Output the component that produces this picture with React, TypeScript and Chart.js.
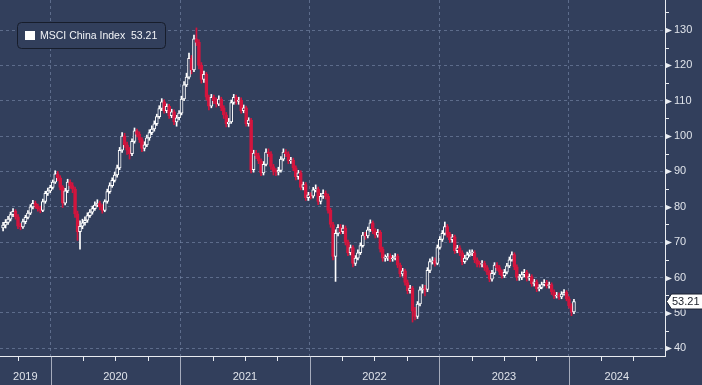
import React, { useEffect, useRef } from 'react';
import { Chart, registerables } from 'chart.js';

Chart.register(...registerables);

// ---------- data ----------
const SERIES_NAME = 'MSCI China Index';
const LAST_VALUE = 53.21;
const START_DATE = '2019-08-20'; // first weekly candle
const FIRST_OPEN = 74.0;

const CLOSE = [
  74.8, 75.6, 76.5, 77.8, 78.7, 77.2, 74.5, 74.3, 75.8, 77.0,
  78.2, 80.0, 81.0, 80.2, 79.5, 79.0, 81.5, 83.8, 84.5, 85.5,
  87.0, 89.3, 88.2, 85.5, 81.0, 84.5, 87.0, 86.0, 85.0, 78.0,
  73.0, 74.5, 75.5, 76.2, 77.5, 78.5, 79.5, 80.5, 81.0, 80.0,
  79.0, 81.5, 84.3, 86.0, 87.5, 89.0, 91.0, 96.0, 100.0, 97.5,
  96.0, 95.0, 98.5, 101.5, 100.5, 99.0, 96.5, 97.5, 99.5, 101.0,
  102.0, 103.5, 105.5, 107.8, 109.7, 107.2, 108.4, 105.8, 106.9, 104.0,
  105.2, 106.5, 110.5, 114.5, 116.7, 122.0, 118.7, 127.5, 126.5, 120.0,
  116.0, 117.5, 111.0, 108.5, 111.0, 110.0, 109.0, 110.5, 108.0, 106.0,
  103.5, 104.0, 109.5, 111.0, 109.8, 110.2, 107.2, 108.0, 103.5, 104.5,
  90.5, 95.2, 94.5, 93.0, 89.6, 92.0, 95.5, 95.0, 91.4, 90.0,
  89.8, 90.3, 93.5, 95.5, 95.0, 93.0, 93.2, 91.0, 88.5, 89.6,
  85.5, 86.3, 82.6, 83.4, 83.0, 84.8, 85.0, 81.5, 83.0, 83.8,
  83.0, 79.0, 75.0, 66.0, 72.5, 74.2, 73.0, 74.0, 70.0, 67.0,
  68.5, 64.0, 65.5, 67.0, 69.0, 72.0, 71.8, 73.5, 75.5, 73.2,
  72.0, 72.8, 68.0, 65.5, 65.5, 66.0, 65.3, 65.5, 66.0, 63.5,
  61.0, 61.9, 58.6, 56.3, 57.0, 50.5, 49.0, 52.5, 56.5, 57.0,
  56.6, 62.0, 64.5, 64.8, 64.0, 68.5, 70.8, 72.5, 74.4, 72.2,
  70.7, 71.5, 67.6, 68.4, 67.0, 64.5, 65.5, 66.4, 67.0, 67.0,
  65.0, 63.8, 63.7, 64.0, 62.8, 61.5, 59.5, 61.2, 63.5, 62.8,
  61.5, 60.5, 61.5, 63.3, 65.0, 66.5, 63.0, 60.0, 60.0, 60.8,
  61.5, 59.8, 60.3, 58.2, 58.8, 56.8, 57.2, 58.0, 58.6, 57.7,
  58.0, 55.9, 54.7, 55.0, 54.5, 55.3, 55.8, 54.0, 52.0, 50.3,
  53.21,
];

const HIGH = [
  75.6, 76.4, 77.3, 78.5, 79.5, 79.2, 77.8, 75.3, 76.5, 77.6,
  78.9, 80.6, 81.8, 81.6, 80.8, 80.2, 82.2, 84.4, 85.3, 86.1,
  87.6, 90.2, 90.0, 88.8, 86.0, 85.2, 87.8, 87.6, 86.8, 85.6,
  78.8, 76.0, 76.5, 77.2, 78.3, 79.2, 80.2, 81.4, 82.0, 81.6,
  80.6, 82.0, 85.0, 86.8, 88.2, 89.8, 91.8, 96.8, 101.0, 100.8,
  98.3, 96.8, 99.2, 102.3, 102.0, 101.2, 99.6, 98.4, 100.3, 101.8,
  102.9, 104.3, 106.2, 108.6, 110.6, 110.3, 109.1, 109.0, 107.6, 107.4,
  105.9, 107.2, 111.3, 115.4, 117.8, 123.5, 122.8, 128.6, 130.6, 127.2,
  120.8, 118.4, 118.0, 111.6, 111.8, 111.6, 110.8, 111.4, 111.0, 108.6,
  106.7, 105.0, 110.2, 111.8, 111.6, 111.0, 110.8, 108.8, 108.5, 105.2,
  105.0, 96.0, 96.0, 95.2, 93.6, 92.8, 96.4, 96.4, 95.6, 92.0,
  90.8, 91.2, 94.2, 96.4, 96.2, 95.6, 94.0, 93.8, 91.6, 90.3,
  90.2, 87.0, 86.9, 84.1, 84.0, 85.5, 86.2, 85.6, 83.8, 84.8,
  84.5, 83.6, 79.6, 75.6, 73.5, 75.0, 75.0, 74.8, 74.6, 70.6,
  69.2, 69.0, 66.2, 67.8, 69.8, 72.8, 72.8, 74.3, 76.3, 76.0,
  73.8, 73.6, 73.3, 68.6, 66.4, 66.8, 66.7, 66.3, 66.8, 66.6,
  64.1, 62.6, 62.4, 59.3, 57.8, 57.5, 51.6, 53.2, 57.4, 58.0,
  57.8, 62.8, 65.3, 65.8, 65.6, 69.2, 71.6, 73.3, 75.7, 75.0,
  72.8, 72.2, 72.0, 69.1, 69.0, 67.6, 66.3, 67.2, 67.8, 67.8,
  67.6, 65.6, 64.6, 64.8, 64.6, 63.4, 62.0, 62.0, 64.2, 64.2,
  63.4, 62.2, 62.3, 64.0, 65.8, 67.3, 67.0, 63.6, 60.9, 61.6,
  62.3, 62.0, 61.0, 60.8, 59.5, 59.3, 58.0, 58.7, 59.4, 59.2,
  58.7, 58.5, 56.5, 55.8, 55.7, 56.0, 56.6, 56.3, 54.6, 52.6,
  53.8,
];

const LOW = [
  73.2, 74.0, 75.0, 76.0, 77.2, 76.5, 73.8, 73.5, 73.9, 75.2,
  76.6, 77.8, 79.4, 79.6, 78.8, 78.3, 78.6, 81.0, 83.2, 84.0,
  85.0, 86.6, 87.4, 84.8, 79.8, 80.5, 84.0, 85.2, 84.0, 77.0,
  70.5, 68.0, 73.8, 74.8, 75.6, 77.0, 77.9, 79.0, 80.0, 79.2,
  78.2, 78.6, 81.0, 83.8, 85.5, 87.0, 88.4, 90.5, 95.4, 96.8,
  94.8, 93.5, 94.5, 98.0, 99.8, 98.2, 95.6, 95.8, 97.0, 98.8,
  100.4, 101.4, 103.0, 105.0, 107.2, 106.5, 106.6, 105.0, 105.2, 103.2,
  102.8, 104.6, 106.0, 110.0, 114.0, 116.2, 117.6, 118.2, 125.6, 119.0,
  115.0, 115.2, 110.2, 107.4, 108.0, 109.2, 108.2, 108.6, 107.2, 105.0,
  102.6, 102.6, 103.6, 109.0, 109.0, 109.0, 106.5, 106.6, 102.8, 102.8,
  89.6, 89.8, 93.6, 92.2, 88.8, 89.0, 91.6, 94.2, 90.6, 89.0,
  88.8, 89.0, 89.8, 93.0, 94.2, 92.2, 92.3, 90.2, 87.6, 87.8,
  84.8, 84.8, 81.8, 81.8, 82.2, 82.5, 84.2, 80.6, 80.8, 82.4,
  82.2, 78.2, 74.2, 65.0, 58.9, 71.8, 72.3, 72.4, 69.2, 66.2,
  66.4, 63.0, 63.4, 65.0, 66.5, 68.6, 70.8, 71.2, 73.0, 72.4,
  71.2, 71.4, 67.2, 64.6, 64.6, 64.8, 64.5, 64.6, 65.0, 62.8,
  60.2, 60.4, 57.8, 55.4, 55.6, 47.4, 48.0, 48.4, 52.0, 55.6,
  54.8, 56.0, 61.4, 63.8, 63.2, 63.6, 68.0, 70.2, 72.0, 71.4,
  69.9, 70.0, 66.8, 67.0, 66.2, 63.6, 64.0, 65.0, 66.0, 66.2,
  64.2, 63.0, 62.9, 63.0, 62.0, 60.8, 58.8, 59.0, 60.8, 62.0,
  60.8, 59.8, 60.0, 61.0, 62.8, 64.6, 62.2, 59.2, 59.2, 59.4,
  60.2, 59.0, 59.2, 57.5, 57.6, 56.0, 56.2, 56.8, 57.6, 57.0,
  57.0, 55.2, 54.0, 54.2, 53.8, 54.0, 55.0, 53.4, 51.3, 49.2,
  49.8,
];

const Y_TICKS = [40, 50, 60, 70, 80, 90, 100, 110, 120, 130];
const Y_MINOR = [45, 55, 65, 75, 85, 95, 105, 115, 125, 135];
const YEARS = [2019, 2020, 2021, 2022, 2023, 2024];
const X_MIN = 2019.609;
const X_MAX = 2024.744;
const Y_MIN = 37.8;
const Y_MAX = 138.5;

// ---------- styles ----------
const BG = '#323f5c';
const GRID = 'rgba(122,138,170,0.6)';
const AXIS = '#e9ecf1';
const LABEL = '#dfe3ea';
const UP = '#ffffff';
const DOWN = '#d3153e';
const FONT = "'Liberation Sans', Arial, sans-serif";

function decimalYear(d: Date): number {
  const y = d.getUTCFullYear();
  const start = Date.UTC(y, 0, 1);
  const end = Date.UTC(y + 1, 0, 1);
  return y + (d.getTime() - start) / (end - start);
}

const DATES: Date[] = CLOSE.map((_, i) => {
  const d = new Date(START_DATE + 'T00:00:00Z');
  d.setUTCDate(d.getUTCDate() + 7 * i);
  return d;
});
const T = DATES.map(decimalYear);
const OPEN = CLOSE.map((_, i) => (i === 0 ? FIRST_OPEN : CLOSE[i - 1]));

const decorPlugin = {
  id: 'decor',
  beforeDraw(chart: any) {
    const { ctx, width, height } = chart;
    ctx.save();
    ctx.fillStyle = BG;
    ctx.fillRect(0, 0, width, height);
    ctx.restore();
  },
  afterDraw(chart: any) {
    const { ctx, chartArea } = chart;
    const xs = chart.scales.x;
    const ys = chart.scales.y;
    const right = chartArea.right;
    const bottom = chartArea.bottom;
    ctx.save();

    // y minor ticks
    ctx.strokeStyle = AXIS;
    ctx.lineWidth = 1;
    Y_MINOR.forEach((v) => {
      const y = Math.round(ys.getPixelForValue(v)) + 0.5;
      if (y < chartArea.top || y > bottom) return;
      ctx.beginPath();
      ctx.moveTo(right, y);
      ctx.lineTo(right + 4, y);
      ctx.stroke();
    });
    // y major triangles
    ctx.fillStyle = AXIS;
    Y_TICKS.forEach((v) => {
      const y = Math.round(ys.getPixelForValue(v)) + 0.5;
      ctx.beginPath();
      ctx.moveTo(right, y - 3);
      ctx.lineTo(right + 7, y);
      ctx.lineTo(right, y + 3);
      ctx.closePath();
      ctx.fill();
    });

    // x quarter ticks
    ctx.strokeStyle = AXIS;
    YEARS.forEach((yr) => {
      [0.25, 0.5, 0.75].forEach((q) => {
        const v = yr + q;
        if (v < X_MIN || v > X_MAX) return;
        const x = Math.round(xs.getPixelForValue(v)) + 0.5;
        ctx.beginPath();
        ctx.moveTo(x, bottom);
        ctx.lineTo(x, bottom + 5);
        ctx.stroke();
      });
    });
    // year separators
    ctx.strokeStyle = 'rgba(205,210,220,0.75)';
    YEARS.forEach((yr) => {
      if (yr < X_MIN || yr > X_MAX) return;
      const x = Math.round(xs.getPixelForValue(yr)) + 0.5;
      ctx.beginPath();
      ctx.moveTo(x, bottom);
      ctx.lineTo(x, chart.height);
      ctx.stroke();
    });
    // year labels
    ctx.fillStyle = LABEL;
    ctx.font = `11px ${FONT}`;
    ctx.textAlign = 'center';
    ctx.textBaseline = 'middle';
    YEARS.forEach((yr) => {
      const a = Math.max(yr, X_MIN);
      const b = Math.min(yr + 1, X_MAX);
      if (b <= a) return;
      const cx = (xs.getPixelForValue(a) + xs.getPixelForValue(b)) / 2;
      ctx.fillText(String(yr), cx, bottom + 21);
    });

    // last value tag
    const ty = ys.getPixelForValue(LAST_VALUE);
    ctx.beginPath();
    ctx.moveTo(right + 1.5, ty);
    ctx.lineTo(right + 6.5, ty - 7.5);
    ctx.lineTo(chart.width + 2, ty - 7.5);
    ctx.lineTo(chart.width + 2, ty + 7.5);
    ctx.lineTo(right + 6.5, ty + 7.5);
    ctx.closePath();
    ctx.fillStyle = '#ffffff';
    ctx.fill();
    ctx.strokeStyle = '#1b2233';
    ctx.stroke();
    ctx.fillStyle = '#1b1f28';
    ctx.textAlign = 'left';
    ctx.font = `11px ${FONT}`;
    ctx.fillText(LAST_VALUE.toFixed(2), right + 7, ty + 0.5);

    // legend box
    ctx.beginPath();
    ctx.roundRect(17.5, 22.5, 148, 26, 4);
    ctx.fillStyle = BG;
    ctx.fill();
    ctx.strokeStyle = '#171d2b';
    ctx.lineWidth = 1;
    ctx.stroke();
    ctx.fillStyle = '#ffffff';
    ctx.fillRect(25, 31, 10, 9);
    ctx.fillStyle = '#f2f4f7';
    ctx.font = `10.5px ${FONT}`;
    ctx.textBaseline = 'middle';
    ctx.fillText(SERIES_NAME, 40, 36);
    ctx.fillText(LAST_VALUE.toFixed(2), 131, 36);

    ctx.restore();
  },
};

export default function App() {
  const ref = useRef<HTMLCanvasElement | null>(null);

  useEffect(() => {
    if (!ref.current) return;
    const up = CLOSE.map((c, i) => c >= OPEN[i]);
    const chart = new Chart(ref.current, {
      type: 'bar',
      data: {
        datasets: [
          {
            label: 'range',
            data: T.map((t, i) => ({ x: t, y: [LOW[i], HIGH[i]] })) as any,
            backgroundColor: up.map((u) => (u ? UP : DOWN)),
            borderWidth: 0,
            barThickness: 1,
            stack: 'ohlc',
            order: 2,
          },
          {
            label: SERIES_NAME,
            data: T.map((t, i) => ({ x: t, y: [OPEN[i], CLOSE[i]] })) as any,
            backgroundColor: up.map((u) => (u ? BG : DOWN)),
            borderColor: up.map((u) => (u ? UP : DOWN)),
            borderWidth: 1,
            borderSkipped: false,
            barThickness: 3,
            minBarLength: 1,
            stack: 'ohlc',
            order: 1,
          },
        ],
      },
      options: {
        animation: false,
        responsive: false,
        devicePixelRatio: 1,
        layout: { padding: 0 },
        plugins: {
          legend: { display: false },
          tooltip: { enabled: false },
        },
        scales: {
          x: {
            type: 'linear',
            min: X_MIN,
            max: X_MAX,
            offset: false,
            grid: { color: GRID, drawTicks: false, offset: false, lineWidth: 1 },
            border: { display: true, color: AXIS, width: 1, dash: [3, 3] },
            ticks: { display: false },
            afterBuildTicks: (s: any) => {
              s.ticks = YEARS.filter((y) => y > X_MIN && y < X_MAX).map((v) => ({ value: v }));
            },
            afterFit: (s: any) => {
              s.height = 29;
              s.paddingLeft = 0;
              s.paddingRight = 0;
            },
          },
          y: {
            type: 'linear',
            position: 'right',
            min: Y_MIN,
            max: Y_MAX,
            stacked: false,
            beginAtZero: false,
            grid: { color: GRID, drawTicks: false, lineWidth: 1 },
            border: { display: true, color: AXIS, width: 1, dash: [3, 3] },
            ticks: {
              color: LABEL,
              font: { family: FONT, size: 11 },
              padding: 9,
              includeBounds: false,
            },
            afterBuildTicks: (s: any) => {
              s.ticks = Y_TICKS.map((v) => ({ value: v }));
            },
            afterFit: (s: any) => {
              s.width = 37;
              s.paddingTop = 0;
              s.paddingBottom = 0;
            },
          },
        },
      } as any,
      plugins: [decorPlugin],
    });
    return () => chart.destroy();
  }, []);

  return (
    <div style={{ position: 'absolute', left: 0, top: 0, width: 702, height: 385, background: BG }}>
      <canvas ref={ref} width={702} height={385} style={{ display: 'block' }} />
    </div>
  );
}
